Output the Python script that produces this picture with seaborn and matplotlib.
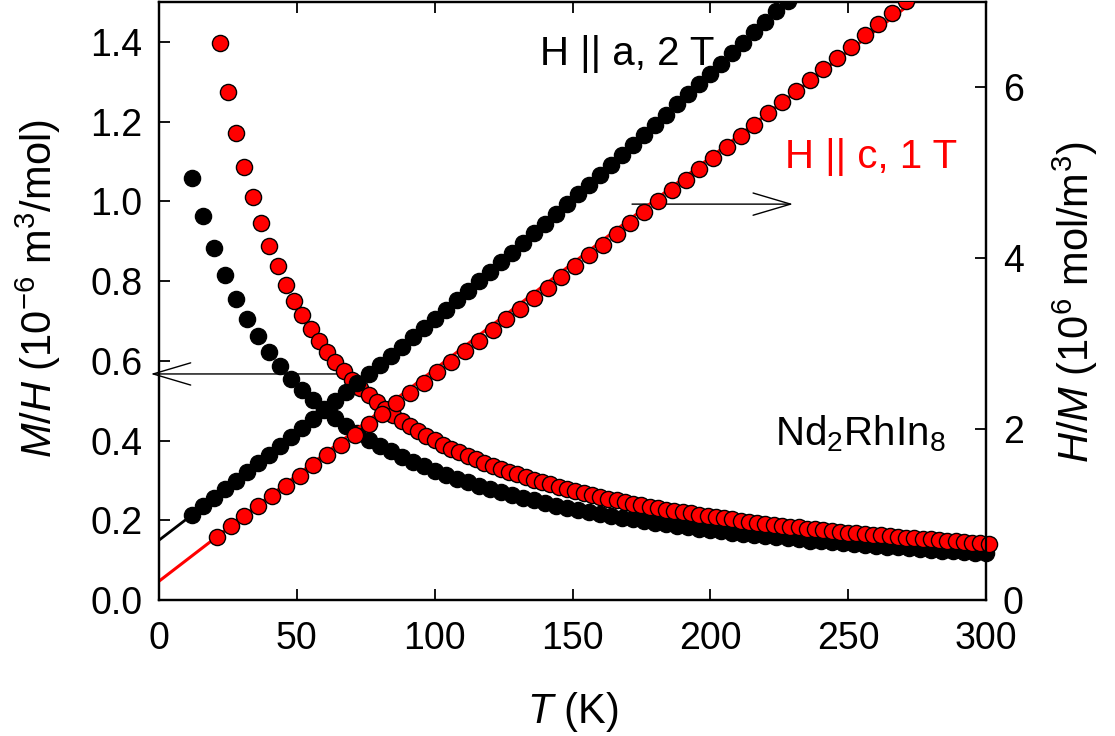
import matplotlib
matplotlib.use("Agg")
import matplotlib.pyplot as plt
import seaborn as sns
import pandas as pd

# ---------------- data ----------------
# H || a, 2 T : M/H (left axis, 1e-6 m^3/mol)
T_a_MH = [12, 16, 20, 24, 28, 32, 36, 40, 44, 48, 52, 56, 60, 64, 68, 72, 76, 80, 84, 88,
          92, 96, 100, 104, 108, 112, 116, 120, 124, 128, 132, 136, 140, 144, 148, 152, 156,
          160, 164, 168, 172, 176, 180, 184, 188, 192, 196, 200, 204, 208, 212, 216, 220,
          224, 228, 232, 236, 240, 244, 248, 252, 256, 260, 264, 268, 272, 276, 280, 284,
          288, 292, 296, 300]
MH_a = [1.058, 0.963, 0.883, 0.815, 0.756, 0.705, 0.661, 0.622, 0.587, 0.555, 0.527, 0.501,
        0.478, 0.457, 0.437, 0.419, 0.402, 0.387, 0.373, 0.359, 0.347, 0.335, 0.324, 0.314,
        0.304, 0.295, 0.287, 0.278, 0.271, 0.263, 0.256, 0.250, 0.243, 0.237, 0.232, 0.226,
        0.221, 0.216, 0.211, 0.206, 0.202, 0.198, 0.194, 0.190, 0.186, 0.182, 0.179, 0.175,
        0.172, 0.169, 0.166, 0.163, 0.160, 0.157, 0.155, 0.152, 0.149, 0.147, 0.145, 0.142,
        0.140, 0.138, 0.136, 0.134, 0.132, 0.130, 0.128, 0.126, 0.124, 0.122, 0.121, 0.119,
        0.117]

# H || c, 1 T : M/H
T_c_MH = [22, 25, 28, 31, 34, 37, 40, 43, 46, 49, 52, 55, 58, 61, 64, 67, 70, 73, 76, 79,
          82, 85, 88, 91, 94, 97, 100, 103, 106, 109, 112, 115, 118, 121, 124, 127, 130, 133,
          136, 139, 142, 145, 148, 151, 154, 157, 160, 163, 166, 169, 172, 175, 178, 181, 184,
          187, 190, 193, 196, 199, 202, 205, 208, 211, 214, 217, 220, 223, 226, 229, 232, 235,
          238, 241, 244, 247, 250, 253, 256, 259, 262, 265, 268, 271, 274, 277, 280, 283, 286,
          289, 292, 295, 298, 301]
MH_c = [1.396, 1.274, 1.172, 1.085, 1.010, 0.945, 0.887, 0.837, 0.791, 0.751, 0.714, 0.681,
        0.650, 0.623, 0.597, 0.574, 0.552, 0.532, 0.513, 0.496, 0.480, 0.465, 0.450, 0.437,
        0.424, 0.412, 0.401, 0.390, 0.380, 0.370, 0.361, 0.353, 0.344, 0.336, 0.329, 0.322,
        0.315, 0.308, 0.302, 0.296, 0.290, 0.284, 0.279, 0.273, 0.268, 0.264, 0.259, 0.254,
        0.250, 0.246, 0.242, 0.238, 0.234, 0.230, 0.227, 0.223, 0.220, 0.217, 0.214, 0.210,
        0.207, 0.205, 0.202, 0.199, 0.196, 0.194, 0.191, 0.189, 0.186, 0.184, 0.182, 0.179,
        0.177, 0.175, 0.173, 0.171, 0.169, 0.167, 0.165, 0.163, 0.162, 0.160, 0.158, 0.156,
        0.155, 0.153, 0.152, 0.150, 0.149, 0.147, 0.146, 0.144, 0.143, 0.141]

# H || a, 2 T : H/M (right axis, 1e6 mol/m^3)
T_a_HM = [12, 16, 20, 24, 28, 32, 36, 40, 44, 48, 52, 56, 60, 64, 68, 72, 76, 80, 84, 88,
          92, 96, 100, 104, 108, 112, 116, 120, 124, 128, 132, 136, 140, 144, 148, 152, 156,
          160, 164, 168, 172, 176, 180, 184, 188, 192, 196, 200, 204, 208, 212, 216, 220,
          224, 228]
HM_a = [0.995, 1.095, 1.195, 1.295, 1.397, 1.498, 1.600, 1.702, 1.805, 1.908, 2.012, 2.116,
        2.221, 2.326, 2.431, 2.537, 2.643, 2.750, 2.857, 2.965, 3.073, 3.182, 3.291, 3.400,
        3.510, 3.621, 3.731, 3.843, 3.954, 4.066, 4.179, 4.292, 4.405, 4.519, 4.633, 4.748,
        4.863, 4.979, 5.095, 5.212, 5.329, 5.446, 5.564, 5.682, 5.801, 5.920, 6.040, 6.160,
        6.280, 6.401, 6.523, 6.644, 6.767, 6.889, 7.013]

# H || c, 1 T : H/M
T_c_HM = [21, 26, 31, 36, 41, 46, 51, 56, 61, 66, 71, 76, 81, 86, 91, 96, 101, 106, 111, 116,
          121, 126, 131, 136, 141, 146, 151, 156, 161, 166, 171, 176, 181, 186, 191, 196, 201,
          206, 211, 216, 221, 226, 231, 236, 241, 246, 251, 256, 261, 266, 271]
HM_c = [0.743, 0.861, 0.979, 1.098, 1.217, 1.336, 1.456, 1.576, 1.696, 1.816, 1.937, 2.058,
        2.179, 2.301, 2.423, 2.545, 2.667, 2.790, 2.913, 3.037, 3.160, 3.284, 3.409, 3.533,
        3.658, 3.783, 3.908, 4.034, 4.160, 4.286, 4.413, 4.540, 4.667, 4.795, 4.922, 5.050,
        5.179, 5.307, 5.436, 5.566, 5.695, 5.825, 5.955, 6.086, 6.216, 6.347, 6.478, 6.610,
        6.742, 6.874, 7.007]

# Curie-Weiss fit lines (right axis)
T_fit_a = [0, 40]
HM_fit_a = [0.70, 1.69]
T_fit_c = [0, 275]
HM_fit_c = [0.22, 7.04]

x_ticks = [0, 50, 100, 150, 200, 250, 300]
left_ticks = [0.0, 0.2, 0.4, 0.6, 0.8, 1.0, 1.2, 1.4]
left_ticklabels = ["0.0", "0.2", "0.4", "0.6", "0.8", "1.0", "1.2", "1.4"]
right_ticks = [0, 2, 4, 6]

# ---------------- style ----------------
sns.set_style("ticks")
plt.rcParams["font.family"] = ["Liberation Sans", "DejaVu Sans"]
plt.rcParams["mathtext.fontset"] = "custom"
plt.rcParams["mathtext.rm"] = "Liberation Sans"
plt.rcParams["mathtext.it"] = "Liberation Sans:italic"
plt.rcParams["mathtext.bf"] = "Liberation Sans:bold"
for key in ("text.color", "axes.labelcolor", "xtick.color", "ytick.color",
            "axes.edgecolor"):
    plt.rcParams[key] = "black"

RED = "#ff0000"
TICK_FS = 27
LABEL_FS = 30
ANN_FS = 29

fig = plt.figure(figsize=(11.15, 7.36), dpi=100)
ax = fig.add_axes([159 / 1115, 1 - 600 / 736, 827 / 1115, 598 / 736])
ax2 = ax.twinx()

df_a_mh = pd.DataFrame({"T": T_a_MH, "v": MH_a})
df_c_mh = pd.DataFrame({"T": T_c_MH, "v": MH_c})
df_a_hm = pd.DataFrame({"T": T_a_HM, "v": HM_a})
df_c_hm = pd.DataFrame({"T": T_c_HM, "v": HM_c})

ms = 135
sns.scatterplot(data=df_a_mh, x="T", y="v", ax=ax, color="black", edgecolor="black",
                linewidth=1.0, s=ms, clip_on=False, zorder=3, legend=False)
sns.scatterplot(data=df_c_mh, x="T", y="v", ax=ax, color=RED, edgecolor="black",
                linewidth=1.0, s=ms, clip_on=False, zorder=4, legend=False)

sns.lineplot(x=T_fit_a, y=HM_fit_a, ax=ax2, color="black", linewidth=2.0, zorder=2)
sns.lineplot(x=T_fit_c, y=HM_fit_c, ax=ax2, color=RED, linewidth=2.2, zorder=2)
sns.scatterplot(data=df_a_hm, x="T", y="v", ax=ax2, color="black", edgecolor="black",
                linewidth=1.0, s=ms, zorder=3, legend=False)
sns.scatterplot(data=df_c_hm, x="T", y="v", ax=ax2, color=RED, edgecolor="black",
                linewidth=1.0, s=ms, zorder=4, legend=False)

ax.set_xlim(0, 300)
ax.set_ylim(0, 1.5)
ax2.set_ylim(0, 7)

ax.set_xticks(x_ticks)
ax.set_xticklabels([str(v) for v in x_ticks])
ax.set_yticks(left_ticks)
ax.set_yticklabels(left_ticklabels)
ax2.set_yticks(right_ticks)
ax2.set_yticklabels([str(v) for v in right_ticks])

ax.tick_params(axis="both", direction="in", length=8, width=1.3, labelsize=TICK_FS,
               top=True, right=False, colors="black")
ax.tick_params(axis="y", pad=12)
ax.tick_params(axis="x", pad=15)
ax2.tick_params(axis="y", direction="in", length=8, width=1.3, labelsize=TICK_FS, pad=12,
                colors="black")

for a in (ax, ax2):
    for sp in a.spines.values():
        sp.set_linewidth(1.6)
        sp.set_color("black")
        sp.set_visible(True)

ax.set_xlabel(r"$\it{T}$ (K)", fontsize=LABEL_FS)
ax.set_ylabel(r"$\it{M/H}$ (10$^{-6}$ m$^{3}$/mol)", fontsize=LABEL_FS, va="center")
ax2.set_ylabel(r"$\it{H/M}$ (10$^{6}$ mol/m$^{3}$)", fontsize=LABEL_FS, va="center",
               rotation=90)
ax.xaxis.set_label_coords(0.5, -0.187)
ax.xaxis.label.set_va("center")
ax.yaxis.set_label_coords(-0.146, 0.52)
ax2.yaxis.set_label_coords(1.108, 0.498)

ax.text(138.2, 1.342, "H || a, 2 T", fontsize=ANN_FS, color="black", ha="left",
        va="baseline")
ax.text(227, 1.084, "H || c, 1 T", fontsize=ANN_FS, color=RED, ha="left",
        va="baseline")
ax.text(223.4, 0.389, r"Nd$_2$RhIn$_8$", fontsize=ANN_FS, color="black", ha="left",
        va="baseline")

arrow_style = "->,head_length=1.35,head_width=0.4"
ax.annotate("", xy=(-3, 0.567), xytext=(64.6, 0.567),
            arrowprops=dict(arrowstyle=arrow_style, lw=1.0, color="black",
                            shrinkA=0, shrinkB=0, mutation_scale=20),
            annotation_clip=False)
ax.annotate("", xy=(230, 0.993), xytext=(171.6, 0.993),
            arrowprops=dict(arrowstyle=arrow_style, lw=1.0, color="black",
                            shrinkA=0, shrinkB=0, mutation_scale=20),
            annotation_clip=False)

fig.savefig("out.png", dpi=100)
